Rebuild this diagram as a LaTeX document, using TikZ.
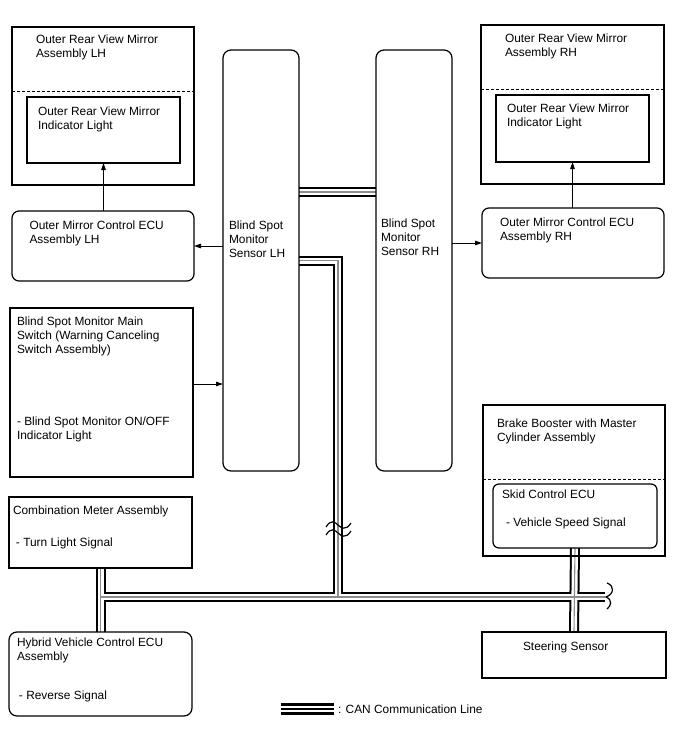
\documentclass[tikz,border=0pt]{standalone}
\usepackage{fontspec}
\setmainfont{Liberation Sans}
\usetikzlibrary{arrows.meta,calc}
\pgfdeclarelayer{background}
\pgfsetlayers{background,main}
\newcommand\fst{\rule{0pt}{10pt}}
\begin{document}
\begin{tikzpicture}[x=1pt,y=-1pt,
  box/.style={draw, line width=1.2pt, inner sep=0pt, outer sep=0pt, anchor=north west},
  rbox/.style={box, rounded corners=7pt},
  dashline/.style={line width=1pt, dash pattern=on 3pt off 2pt},
  txt/.style={inner sep=0pt, outer sep=0pt, anchor=north west, align=left, font=\fontsize{11.9pt}{14pt}\selectfont},
  arr/.style={line width=0.9pt, -{Triangle[length=7pt,width=4.5pt]}},
  canA/.style={line width=10pt, black},
  canB/.style={line width=6pt, white},
  canC/.style={line width=1.1pt, black!45},
  brk/.style={line width=1.2pt, black}]
\useasboundingbox (0,0) rectangle (688,755);
% boxes
\node[box, minimum width=182pt, minimum height=158pt] (mirL) at (12,27) {};
\node[box, minimum width=153pt, minimum height=66pt] (mirLi) at (27,97) {};
\node[rbox, minimum width=182pt, minimum height=70pt] (ecuL) at (12,211) {};
\node[rbox, rounded corners=8pt, minimum width=76pt, minimum height=421pt] (senL) at (223,50) {};
\node[box, minimum width=183pt, minimum height=169pt] (sw) at (10,308) {};
\node[rbox, rounded corners=8pt, minimum width=76pt, minimum height=421pt] (senR) at (376,50) {};
\node[box, minimum width=183pt, minimum height=159pt] (mirR) at (481,25) {};
\node[box, minimum width=153pt, minimum height=67pt] (mirRi) at (496,95) {};
\node[rbox, minimum width=182pt, minimum height=70pt] (ecuR) at (482,208) {};
\node[box, minimum width=182pt, minimum height=151pt] (bb) at (483,405) {};
\node[rbox, rounded corners=6pt, minimum width=164pt, minimum height=64pt] (skid) at (493,484) {};
\node[box, minimum width=183pt, minimum height=71pt] (cm) at (9,497) {};
\node[rbox, rounded corners=8pt, minimum width=183pt, minimum height=84pt] (hv) at (9,632) {};
\node[box, minimum width=184pt, minimum height=46pt] (steer) at (482,632) {};
% dashed separators
\draw[dashline] ($(mirL.north west)+(0,64)$) -- ($(mirL.north east)+(0,64)$);
\draw[dashline] ($(mirR.north west)+(0,64)$) -- ($(mirR.north east)+(0,64)$);
\draw[dashline] ($(bb.north west)+(0,74)$) -- ($(bb.north east)+(0,74)$);
% texts
\node[txt] (tmirL) at (36,33.5) {\fst Outer Rear View Mirror\\Assembly LH};
\node[txt] (tmirLi) at (38,105) {\fst Outer Rear View Mirror\\Indicator Light};
\node[txt] (tecuL) at (29.5,219.3) {\fst Outer Mirror Control ECU\\Assembly LH};
\node[txt] (tsenL) at (229,219.5) {\fst Blind Spot\\Monitor\\Sensor LH};
\node[txt] (tsw1) at (17,315) {\fst Blind Spot Monitor Main\\Switch (Warning Canceling\\Switch Assembly)};
\node[txt] (tsw2) at (17,415) {\fst - Blind Spot Monitor ON/OFF\\Indicator Light};
\node[txt] (tsenR) at (381,217.5) {\fst Blind Spot\\Monitor\\Sensor RH};
\node[txt] (tmirR) at (505,32) {\fst Outer Rear View Mirror\\Assembly RH};
\node[txt] (tmirRi) at (507,102.5) {\fst Outer Rear View Mirror\\Indicator Light};
\node[txt] (tecuR) at (500,216.3) {\fst Outer Mirror Control ECU\\Assembly RH};
\node[txt] (tbb) at (497,417) {\fst Brake Booster with Master\\Cylinder Assembly};
\node[txt] (tskid1) at (502,488.5) {\fst Skid Control ECU};
\node[txt] (tskid2) at (506,516.5) {\fst - Vehicle Speed Signal};
\node[txt] (tcm1) at (13,504) {\fst Combination Meter Assembly};
\node[txt] (tcm2) at (16,536) {\fst - Turn Light Signal};
\node[txt] (thv1) at (17,636) {\fst Hybrid Vehicle Control ECU\\Assembly};
\node[txt] (thv2) at (19,689) {\fst - Reverse Signal};
\node[txt] (tsteer) at (523,640) {\fst Steering Sensor};
\node[txt] (tleg) at (338,703) {\fst : CAN Communication Line};
% arrows
\draw[arr] (mirLi.south |- ecuL.north) -- (mirLi.south);
\draw[arr] (senL.west |- ecuL.east) -- (ecuL.east);
\coordinate (swa) at ($(sw.east)+(0,-8.5)$);
\draw[arr] (swa) -- (swa -| senL.west);
\draw[arr] (senR.east |- ecuR.west) -- (ecuR.west);
\draw[arr] (mirRi.south |- ecuR.north) -- (mirRi.south);
% CAN lines
\coordinate (link) at (0,192);
\coordinate (drop) at (338,597);
\coordinate (busend) at (605,597);
\newcommand\canpaths[1]{%
  \draw[#1] (senL.east |- link) -- (senR.west |- link);
  \draw[#1] (senL.east) -| (drop);
  \draw[#1] (cm.south) -- (hv.north);
  \draw[#1] (cm.south |- drop) -- (busend);
  \draw[#1] (skid.south) -- (steer.north);}
\begin{pgfonlayer}{background}
\canpaths{canA}
\canpaths{canB}
\canpaths{canC}
\end{pgfonlayer}
% break marks
\coordinate (bk1) at (338,525);
\coordinate (bk2) at (338,533);
\foreach \b in {bk1,bk2}{
  \draw[brk] ($(\b)+(-12,2)$) .. controls ($(\b)+(-7,-6)$) and ($(\b)+(-3,-3)$) .. (\b)
             .. controls ($(\b)+(3,3)$) and ($(\b)+(8,6)$) .. ($(\b)+(13,-2)$);}
\draw[brk] ($(busend)+(2,-14)$) .. controls ($(busend)+(10,-11)$) and ($(busend)+(9,-3)$) .. ($(busend)+(1,0)$)
           .. controls ($(busend)+(8,3)$) and ($(busend)+(6,9)$) .. ($(busend)+(2,12)$);
% legend
\coordinate (lg1) at (281,709);
\coordinate (lg2) at (334,709);
\foreach \d in {-4.5,0,4.5}{
  \draw[line width=2.2pt] ($(lg1)+(0,\d)$) -- ($(lg2)+(0,\d)$);}
\end{tikzpicture}
\end{document}
